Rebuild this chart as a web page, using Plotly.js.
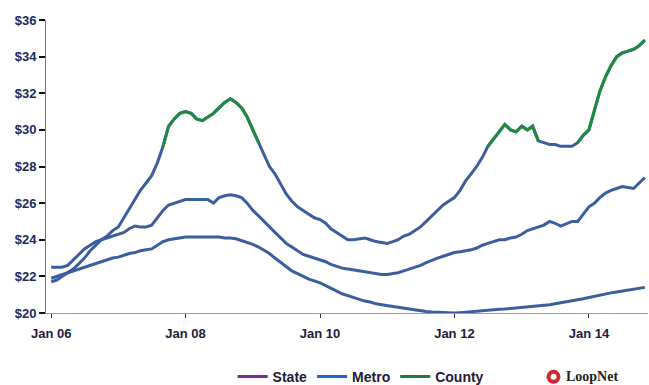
<!DOCTYPE html>
<html>
<head>
<meta charset="utf-8">
<script src="https://cdn.plot.ly/plotly-3.0.1.min.js"></script>
<style>html,body{margin:0;padding:0;background:#fff;}#chart{width:649px;height:385px;}</style>
</head>
<body>
<div id="chart"></div>
<script>
// Monthly series, Jan 2006 .. Nov 2014 (asking rent, $/sq ft)
const startYear = 2006;
const monthCount = 107;

const county = [
  21.7, 21.8, 22.0, 22.2, 22.4, 22.7, 23.0, 23.4, 23.7, 24.0, 24.2, 24.5,
  24.7, 25.2, 25.7, 26.2, 26.7, 27.1, 27.5, 28.2, 29.1, 30.2, 30.6, 30.9,
  31.0, 30.9, 30.6, 30.5, 30.7, 30.9, 31.2, 31.5, 31.7, 31.5, 31.2, 30.7,
  30.0, 29.3, 28.6, 28.0, 27.6, 27.0, 26.5, 26.1, 25.8, 25.6, 25.4, 25.2,
  25.1, 24.9, 24.6, 24.4, 24.2, 24.0, 24.0, 24.05, 24.1, 24.0, 23.9, 23.85,
  23.8, 23.9, 24.0, 24.2, 24.3, 24.5, 24.7, 25.0, 25.3, 25.6, 25.9, 26.1,
  26.3, 26.7, 27.2, 27.6, 28.0, 28.5, 29.1, 29.5, 29.9, 30.3, 30.0, 29.9,
  30.2, 30.0, 30.2, 29.4, 29.3, 29.2, 29.2, 29.1, 29.1, 29.1, 29.3, 29.7,
  30.0, 31.1, 32.1, 32.9, 33.5, 34.0, 34.2, 34.3, 34.4, 34.6, 34.9
];
const metro = [
  22.5, 22.5, 22.5, 22.6, 22.9, 23.2, 23.5, 23.7, 23.9, 24.0, 24.1, 24.2,
  24.3, 24.4, 24.6, 24.75, 24.7, 24.7, 24.8, 25.2, 25.6, 25.9, 26.0, 26.1,
  26.2, 26.2, 26.2, 26.2, 26.2, 26.0, 26.3, 26.4, 26.45, 26.4, 26.3, 26.0,
  25.6, 25.3, 25.0, 24.7, 24.4, 24.1, 23.8, 23.6, 23.4, 23.2, 23.1, 23.0,
  22.9, 22.8, 22.65, 22.55, 22.45, 22.4, 22.35, 22.3, 22.25, 22.2, 22.15, 22.1,
  22.1, 22.15, 22.2, 22.3, 22.4, 22.5, 22.6, 22.75, 22.9, 23.0, 23.1, 23.2,
  23.3, 23.35, 23.4, 23.45, 23.55, 23.7, 23.8, 23.9, 24.0, 24.0, 24.1, 24.15,
  24.3, 24.5, 24.6, 24.7, 24.8, 25.0, 24.9, 24.75, 24.9, 25.0, 25.0, 25.4,
  25.8, 26.0, 26.3, 26.55, 26.7, 26.8, 26.9, 26.85, 26.8, 27.1, 27.4
];
const state = [
  21.9, 22.0, 22.1, 22.2, 22.3, 22.4, 22.5, 22.6, 22.7, 22.8, 22.9, 23.0,
  23.05, 23.15, 23.25, 23.3, 23.4, 23.45, 23.5, 23.7, 23.9, 24.0, 24.05, 24.1,
  24.15, 24.15, 24.15, 24.15, 24.15, 24.15, 24.15, 24.1, 24.1, 24.05, 23.95, 23.85,
  23.75, 23.6, 23.45, 23.25, 23.0, 22.75, 22.5, 22.3, 22.15, 22.0, 21.85, 21.75,
  21.65, 21.5, 21.35, 21.2, 21.05, 20.95, 20.85, 20.75, 20.65, 20.6, 20.5, 20.45,
  20.4, 20.35, 20.3, 20.25, 20.2, 20.15, 20.1, 20.08, 20.05, 20.03, 20.02, 20.0,
  20.0, 20.02, 20.05, 20.08, 20.1, 20.12, 20.15, 20.17, 20.2, 20.22, 20.25, 20.28,
  20.3, 20.32, 20.35, 20.38, 20.4, 20.45, 20.5, 20.55, 20.6, 20.65, 20.7, 20.78,
  20.85, 20.92, 21.0, 21.05, 21.1, 21.15, 21.2, 21.25, 21.3, 21.35, 21.4
];
const seriesNames = ['State', 'Metro', 'County'];
const legendColors = ['#7b2b8c', '#1f63d6', '#1f7d3c'];
const yTickVals = [20, 22, 24, 26, 28, 30, 32, 34, 36];
const yTickText = ['$20', '$22', '$24', '$26', '$28', '$30', '$32', '$34', '$36'];
const countyHighlight = 29.5;

const dates = [];
for (let i = 0; i < monthCount; i++) {
  const y = startYear + Math.floor(i / 12);
  const m = (i % 12) + 1;
  dates.push(y + '-' + (m < 10 ? '0' + m : m) + '-01');
}

// green highlight of County where it is high (segments include neighbouring months)
const countyGreen = county.map((v, i) => {
  const hi = k => k >= 0 && k < county.length && county[k] >= countyHighlight;
  return (hi(i) || hi(i - 1) || hi(i + 1)) ? v : null;
});

const lineBlue = '#3b5e9c';
const lineGreen = '#1f8a3f';

const traces = [
  {x: dates, y: state, mode: 'lines', line: {color: lineBlue, width: 3}, showlegend: false, hoverinfo: 'skip'},
  {x: dates, y: metro, mode: 'lines', line: {color: lineBlue, width: 3}, showlegend: false, hoverinfo: 'skip'},
  {x: dates, y: county, mode: 'lines', line: {color: lineBlue, width: 3}, showlegend: false, hoverinfo: 'skip'},
  {x: dates, y: countyGreen, mode: 'lines', line: {color: lineGreen, width: 3}, connectgaps: false, showlegend: false, hoverinfo: 'skip'}
];
seriesNames.forEach((n, i) => {
  traces.push({x: [null], y: [null], mode: 'lines', name: n, line: {color: legendColors[i], width: 3}, showlegend: true});
});

const logoX = 0.843, logoY = -0.218;
const layout = {
  width: 649, height: 385,
  margin: {l: 46, r: 1, t: 20, b: 72},
  paper_bgcolor: '#ffffff', plot_bgcolor: '#ffffff',
  showlegend: true,
  font: {family: 'Liberation Sans, Arial, sans-serif'},
  xaxis: {
    type: 'date',
    range: ['2005-12-04', '2014-11-18'],
    tick0: '2006-01-01', dtick: 'M24', tickformat: '%b %y',
    showgrid: false, zeroline: false,
    showline: true, linecolor: '#8b9cc6', linewidth: 1,
    ticks: 'outside', ticklen: 4, tickcolor: '#333', tickwidth: 1,
    ticklabelstandoff: 4,
    tickfont: {size: 13, color: '#221a3a', weight: 'bold'}
  },
  yaxis: {
    range: [20, 36],
    tickvals: yTickVals, ticktext: yTickText,
    showgrid: false, zeroline: false,
    showline: true, linecolor: '#5d73ad', linewidth: 1,
    ticks: 'outside', ticklen: 6, tickcolor: '#111', tickwidth: 2,
    tickfont: {size: 13, color: '#1c2b5c', weight: 'bold'}
  },
  legend: {
    orientation: 'h', x: 0.31, xanchor: 'left',
    yref: 'container', y: 0.021, yanchor: 'middle',
    font: {size: 14, color: '#231a3a', weight: 'bold'},
    itemwidth: 30, tracegroupgap: 0, bgcolor: 'rgba(0,0,0,0)'
  },
  shapes: [
    {type: 'circle', xref: 'paper', yref: 'paper', xsizemode: 'pixel', ysizemode: 'pixel',
     xanchor: logoX, yanchor: logoY, x0: -7, x1: 7, y0: -7, y1: 7,
     fillcolor: '#d3262b', line: {width: 0}},
    {type: 'circle', xref: 'paper', yref: 'paper', xsizemode: 'pixel', ysizemode: 'pixel',
     xanchor: logoX, yanchor: logoY, x0: -3, x1: 3, y0: -3, y1: 3,
     fillcolor: '#ffffff', line: {width: 0}}
  ],
  annotations: [{
    xref: 'paper', yref: 'paper', x: 0.86, y: logoY, xanchor: 'left', yanchor: 'middle',
    text: 'LoopNet',
    showarrow: false, font: {size: 14, color: '#222', family: 'Liberation Serif', weight: 'bold'}
  }]
};

Plotly.newPlot('chart', traces, layout, {displayModeBar: false, staticPlot: true});
</script>
</body>
</html>
